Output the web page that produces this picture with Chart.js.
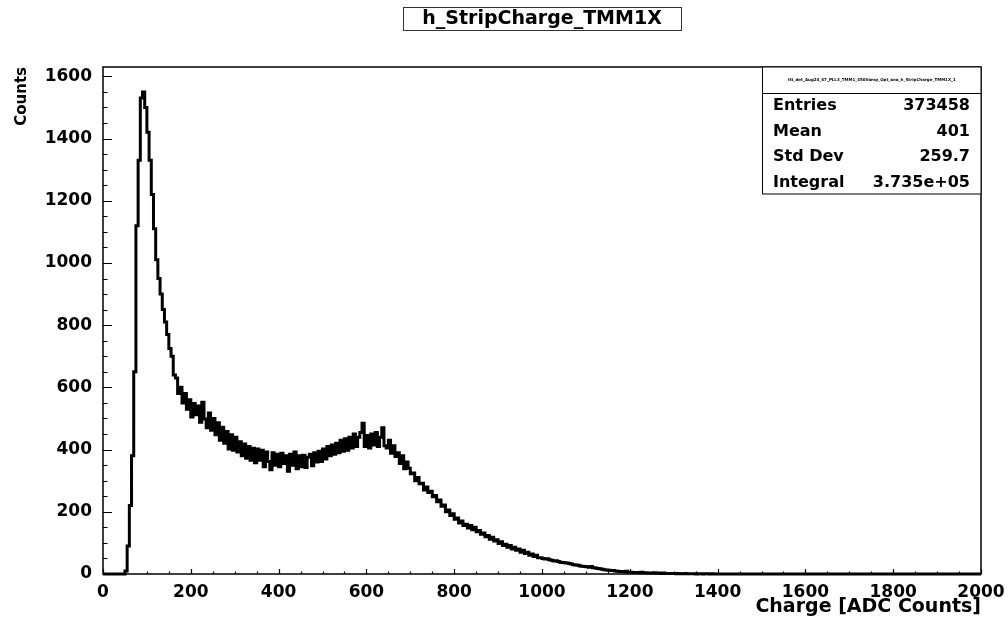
<!DOCTYPE html>
<html>
<head>
<meta charset="utf-8">
<script src="https://cdn.jsdelivr.net/npm/chart.js@4"></script>
<style>
  html, body { margin: 0; padding: 0; background: #fff; }
  canvas { display: block; }
</style>
</head>
<body>
<canvas id="chart" width="1008" height="621"></canvas>
<script>
// histogram h_StripCharge_TMM1X, 5 ADC wide bins starting at 0
const binWidth = 5;

// 0 .. 195
const countsRise = [
  0, 0, 0, 0, 0, 0, 0, 0, 0, 0,
  0, 10, 90, 220, 380, 650, 1120, 1330, 1530, 1550,
  1500, 1420, 1330, 1220, 1110, 1010, 950, 900, 850, 810,
  770, 725, 700, 640, 630, 580, 600, 550, 580, 530
];

// 200 .. 695
const countsPlateau = [
  560, 505, 548, 512, 540, 488, 552, 498, 470, 518,
  462, 500, 448, 486, 430, 472, 420, 458, 402, 448,
  398, 440, 392, 425, 380, 418, 372, 410, 366, 404,
  358, 402, 366, 398, 345, 392, 362, 335, 390, 350,
  385, 345, 388, 355, 380, 330, 385, 350, 392, 338,
  380, 345, 382, 342, 375, 385, 348, 390, 360, 395,
  362, 402, 370, 410, 380, 415, 385, 420, 390, 430,
  395, 435, 398, 440, 405, 450, 410, 440, 455, 485,
  410, 445, 405, 450, 415, 455, 410, 440, 470, 412,
  405, 430, 388, 412, 378, 390, 355, 380, 338, 360
];

// 700 .. 1395
const countsTail = [
  340, 322, 325, 300, 310, 290, 292, 270, 280, 262,
  266, 248, 252, 232, 238, 218, 222, 200, 206, 188,
  194, 176, 180, 164, 170, 156, 160, 148, 156, 142,
  150, 136, 140, 128, 132, 120, 124, 112, 118, 106,
  110, 98, 104, 92, 96, 86, 92, 80, 86, 76,
  80, 70, 76, 66, 70, 60, 64, 56, 60, 52,
  52, 50, 48, 49, 46, 44, 42, 43, 40, 38,
  37, 36, 35, 34, 32, 30, 29, 28, 26, 25,
  24, 23, 22, 24, 20, 19, 18, 17, 15, 14,
  13, 12, 11, 11, 10, 9, 8, 8, 7, 9,
  6, 6, 5, 5, 5, 4, 6, 4, 4, 3,
  3, 3, 4, 3, 3, 2, 3, 2, 2, 2,
  2, 2, 1, 2, 1, 1, 2, 1, 1, 1,
  1, 0, 1, 1, 0, 1, 1, 0, 1, 0
];

const xRange = [0, 2000];
const yRange = [0, 1630];
const xTickLabels = [0, 200, 400, 600, 800, 1000, 1200, 1400, 1600, 1800, 2000];
const yTickLabels = [0, 200, 400, 600, 800, 1000, 1200, 1400, 1600];
const majorStep = 200;
const minorStep = 50;

const histTitle = 'h_StripCharge_TMM1X';
const statsHeader = 'ttt_det_Aug24_47_PLL3_TMM1_450Vamp_Opt_ana_h_StripCharge_TMM1X_1';
const statsLabels = ['Entries', 'Mean', 'Std Dev', 'Integral'];
const statsValues = ['373458', '401', '259.7', '3.735e+05'];
const xTitle = 'Charge [ADC Counts]';
const yTitle = 'Counts';

const allCounts = countsRise.concat(countsPlateau, countsTail);
const points = allCounts.map((c, i) => ({ x: i * binWidth, y: c }));
points.push({ x: allCounts.length * binWidth, y: 0 });
points.push({ x: xRange[1], y: 0 });

const FONT = 'DejaVu Sans';

// ROOT style frame, ticks, title box and stats box
const rootStyle = {
  id: 'rootStyle',
  beforeDraw(chart) {
    const ctx = chart.ctx;
    ctx.save();
    ctx.fillStyle = '#fff';
    ctx.fillRect(0, 0, chart.width, chart.height);
    ctx.restore();
  },
  afterDraw(chart) {
    const ctx = chart.ctx;
    const a = chart.chartArea;
    const xs = chart.scales.x;
    const ys = chart.scales.y;
    ctx.save();
    ctx.strokeStyle = '#000';
    ctx.lineWidth = 1.5;
    ctx.strokeRect(a.left, a.top, a.right - a.left, a.bottom - a.top);

    // tick marks inside the frame
    ctx.lineWidth = 1.2;
    ctx.beginPath();
    for (let v = xRange[0]; v <= xRange[1]; v += minorStep) {
      const px = Math.round(xs.getPixelForValue(v)) + 0.5;
      const len = v % majorStep === 0 ? 5 : 2.5;
      ctx.moveTo(px, a.bottom);
      ctx.lineTo(px, a.bottom - len);
    }
    for (let v = yRange[0]; v <= yRange[1]; v += minorStep) {
      const py = Math.round(ys.getPixelForValue(v)) + 0.5;
      const len = v % majorStep === 0 ? 9 : 4.5;
      ctx.moveTo(a.left, py);
      ctx.lineTo(a.left + len, py);
    }
    ctx.stroke();

    // axis titles
    ctx.fillStyle = '#000';
    ctx.font = 'bold 19px "' + FONT + '"';
    ctx.textAlign = 'right';
    ctx.textBaseline = 'middle';
    ctx.fillText(xTitle, a.right, 607);
    ctx.save();
    ctx.translate(22, a.top);
    ctx.rotate(-Math.PI / 2);
    ctx.font = 'bold 15px "' + FONT + '"';
    ctx.textAlign = 'right';
    ctx.fillText(yTitle, 0, 0);
    ctx.restore();

    // title box
    ctx.lineWidth = 1;
    ctx.strokeStyle = '#333';
    ctx.strokeRect(403.5, 7.5, 278, 23);
    ctx.font = 'bold 19px "' + FONT + '"';
    ctx.textAlign = 'center';
    ctx.fillText(histTitle, 542, 19);

    // stats box
    const bx = 762.5, by = a.top, bw = a.right - 762.5, bh = 127;
    ctx.fillStyle = '#fff';
    ctx.fillRect(bx, by, bw, bh);
    ctx.strokeStyle = '#000';
    ctx.strokeRect(bx, by, bw, bh);
    ctx.beginPath();
    ctx.moveTo(bx, 93.5);
    ctx.lineTo(bx + bw, 93.5);
    ctx.stroke();
    ctx.fillStyle = '#000';
    ctx.font = 'bold 4px "' + FONT + '"';
    ctx.textAlign = 'center';
    ctx.fillText(statsHeader, bx + bw / 2, 80);
    ctx.font = 'bold 16px "' + FONT + '"';
    const rowY = [106, 132, 157, 183];
    statsLabels.forEach((lab, i) => {
      ctx.textAlign = 'left';
      ctx.fillText(lab, 773, rowY[i]);
      ctx.textAlign = 'right';
      ctx.fillText(statsValues[i], 970, rowY[i]);
    });
    ctx.restore();
  }
};

const tickFont = { family: FONT, size: 17, weight: 'bold' };

new Chart(document.getElementById('chart'), {
  type: 'line',
  data: {
    datasets: [{
      data: points,
      borderColor: '#000',
      borderWidth: 3,
      stepped: 'after',
      pointRadius: 0,
      fill: false,
      clip: 4
    }]
  },
  options: {
    responsive: false,
    animation: false,
    layout: { padding: { top: 67, right: 27, left: 0, bottom: 0 } },
    plugins: { legend: { display: false }, tooltip: { enabled: false } },
    scales: {
      x: {
        type: 'linear',
        min: xRange[0],
        max: xRange[1],
        grid: { display: false, drawTicks: false },
        border: { display: false },
        afterBuildTicks(s) { s.ticks = xTickLabels.map(v => ({ value: v })); },
        ticks: {
          maxRotation: 0,
          autoSkip: false,
          padding: 8,
          color: '#000',
          font: tickFont,
          callback: v => String(v)
        },
        afterFit(s) {
          s.height = 47;
          s.paddingLeft = 0;
          s.paddingRight = 0;
        }
      },
      y: {
        min: yRange[0],
        max: yRange[1],
        grid: { display: false, drawTicks: false },
        border: { display: false },
        afterBuildTicks(s) { s.ticks = yTickLabels.map(v => ({ value: v })); },
        ticks: {
          autoSkip: false,
          padding: 11,
          color: '#000',
          font: tickFont,
          callback: v => String(v)
        },
        afterFit(s) {
          s.width = 103;
          s.paddingTop = 0;
          s.paddingBottom = 0;
        }
      }
    }
  },
  plugins: [rootStyle]
});
</script>
</body>
</html>
